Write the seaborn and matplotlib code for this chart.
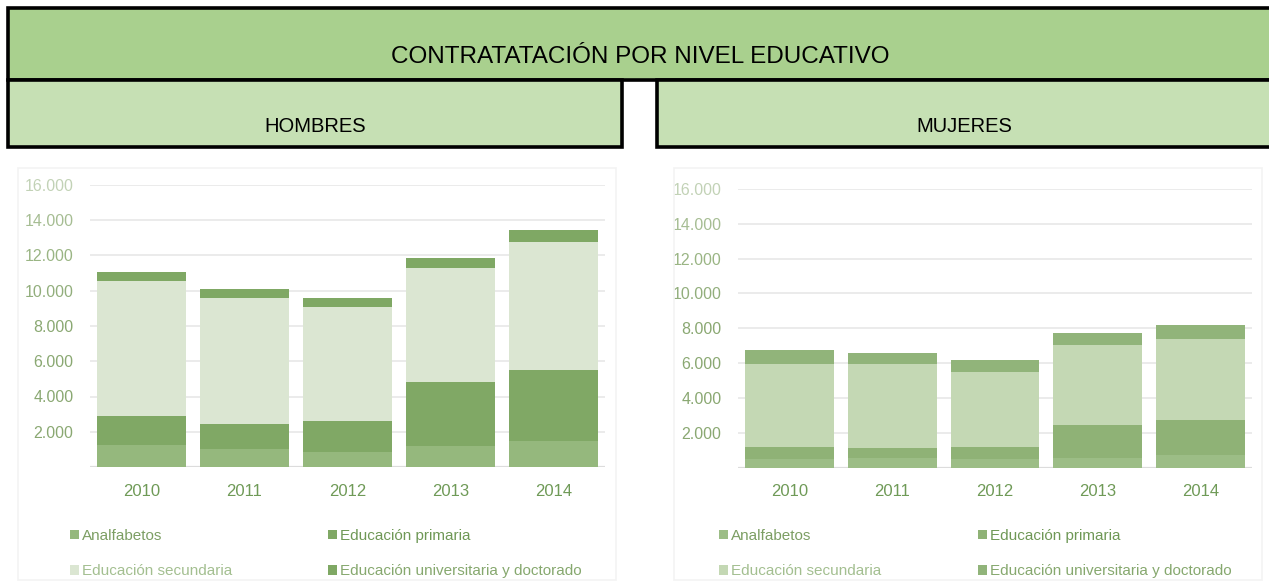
import numpy as np
import pandas as pd
import matplotlib.pyplot as plt
import seaborn as sns
from matplotlib.patches import Rectangle, Patch
from matplotlib.ticker import FuncFormatter

# Data (contracts per year, by education level)
years = ["2010", "2011", "2012", "2013", "2014"]
levels = ["Analfabetos", "Educación primaria", "Educación secundaria",
          "Educación universitaria y doctorado"]

hombres_analfabetos = [1240, 1010, 860, 1200, 1470]
hombres_primaria = [1670, 1440, 1770, 3620, 4060]
hombres_secundaria = [7670, 7140, 6470, 6450, 7230]
hombres_universitaria = [510, 510, 510, 570, 680]

mujeres_analfabetos = [500, 540, 500, 560, 700]
mujeres_primaria = [680, 580, 670, 1880, 2030]
mujeres_secundaria = [4760, 4810, 4300, 4600, 4660]
mujeres_universitaria = [790, 670, 690, 670, 810]

yticks = [2000, 4000, 6000, 8000, 10000, 12000, 14000, 16000]

colors_h = ["#95b87d", "#80a865", "#dbe6d2", "#7fa864"]
colors_m = ["#9cbd86", "#8fb276", "#c4d8b4", "#91b47a"]
legend_text_colors = ["#7c9e63", "#6f9856", "#a3bf90", "#86a86e"]
# the top tick labels are washed out in the original
ytick_colors = ["#8aa872", "#8aa872", "#8aa872", "#8aa872", "#92ae7c", "#9ab584",
                "#a6bd93", "#c2d2b6"]

sns.set_theme(style="white")
plt.rcParams["font.family"] = ["Liberation Sans", "DejaVu Sans"]

W, H = 1269, 581
fig = plt.figure(figsize=(W / 100, H / 100), dpi=100)


def fx(px):
    return px / W


def fy(py):
    return 1 - py / H


def box(x0, y0, x1, y1, color):
    fig.patches.append(Rectangle((fx(x0), fy(y1)), fx(x1) - fx(x0), fy(y0) - fy(y1),
                                 transform=fig.transFigure, facecolor=color,
                                 edgecolor="black", linewidth=2.6, zorder=2))


# faint panel frames around the charts
for x0, x1 in [(18, 616), (674, 1262)]:
    fig.patches.append(Rectangle((fx(x0), fy(580)), fx(x1) - fx(x0), fy(168) - fy(580),
                                 transform=fig.transFigure, facecolor="none",
                                 edgecolor="#f3f3f3", linewidth=1.2, zorder=0))

# header banners
box(8, 8, 1280, 80, "#a9d08e")
box(8, 80, 622, 147, "#c6e0b4")
box(657, 80, 1280, 147, "#c6e0b4")
fig.text(fx(640), fy(57), "CONTRATATACIÓN POR NIVEL EDUCATIVO", ha="center", va="center",
         fontsize=17.5, color="black", zorder=3)
fig.text(fx(315), fy(126), "HOMBRES", ha="center", va="center",
         fontsize=14.5, color="black", zorder=3)
fig.text(fx(964), fy(126), "MUJERES", ha="center", va="center",
         fontsize=14.5, color="black", zorder=3)


def draw_panel(ax, series, colors):
    df = pd.DataFrame(dict(zip(levels, series)), index=years)
    cum = df.cumsum(axis=1)
    # draw tallest stack first, shorter stacks on top of it
    for level, color in reversed(list(zip(levels, colors))):
        sns.barplot(x=years, y=cum[level].values, color=color, saturation=1,
                    width=0.865, linewidth=0, ax=ax, zorder=2)
    ax.set_ylim(0, 16000)
    ax.set_xlim(-0.5, 4.5)
    ax.set_yticks(yticks)
    ax.yaxis.set_major_formatter(FuncFormatter(lambda v, p: f"{int(v):,}".replace(",", ".")))
    ax.yaxis.grid(True, color="#e9e9e9", linewidth=1.3)
    ax.axhline(0, color="#dcdcdc", linewidth=1.6, zorder=1)
    ax.set_axisbelow(True)
    sns.despine(ax=ax, left=True, bottom=True)
    ax.tick_params(axis="y", length=0, pad=12, labelsize=11.5)
    ax.tick_params(axis="x", length=0, pad=12, labelsize=12, labelcolor="#6f9a57")
    for lab, c in zip(ax.get_yticklabels(), ytick_colors):
        lab.set_color(c)
    ax.set_xlabel("")
    ax.set_ylabel("")
    ax.patch.set_alpha(0)


def draw_legend(x_cols, y_top, colors):
    order = [(0, 2), (1, 3)]
    for x, idxs in zip(x_cols, order):
        handles = [Patch(facecolor=colors[i], edgecolor="none") for i in idxs]
        leg = fig.legend(handles, [levels[i] for i in idxs], loc="upper left",
                         bbox_to_anchor=(fx(x), fy(y_top)), frameon=False,
                         fontsize=11, handlelength=0.6, handleheight=0.6,
                         handletextpad=0.2, borderpad=0, borderaxespad=0,
                         labelspacing=1.4)
        for t, i in zip(leg.get_texts(), idxs):
            t.set_color(legend_text_colors[i])


ax_h = fig.add_axes([fx(90), fy(467), fx(605) - fx(90), fy(185) - fy(467)])
draw_panel(ax_h, [hombres_analfabetos, hombres_primaria, hombres_secundaria,
                  hombres_universitaria], colors_h)

ax_m = fig.add_axes([fx(738), fy(467.5), fx(1252) - fx(738), fy(189) - fy(467.5)])
draw_panel(ax_m, [mujeres_analfabetos, mujeres_primaria, mujeres_secundaria,
                  mujeres_universitaria], colors_m)

draw_legend([70, 328], 529, colors_h)
draw_legend([719, 978], 529, colors_m)

fig.savefig("out.png", dpi=100)
